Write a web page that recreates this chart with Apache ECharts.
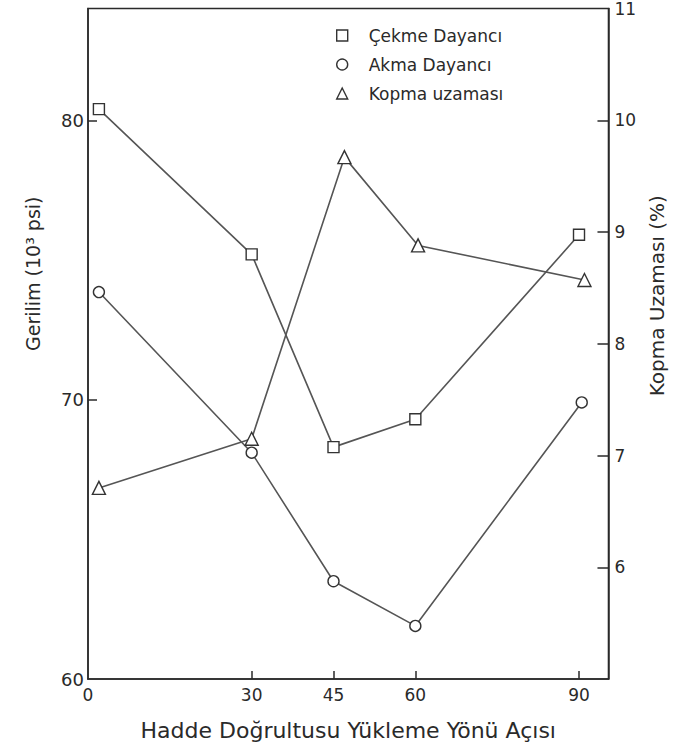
<!DOCTYPE html>
<html>
<head>
<meta charset="utf-8">
<script src="https://cdn.jsdelivr.net/npm/echarts@6/dist/echarts.min.js"></script>
<style>
  html, body { margin: 0; padding: 0; background: #fff; }
  #chart { width: 675px; height: 751px; }
</style>
</head>
<body>
<div id="chart"></div>
<script>
// angle (deg) values as plotted
var angleCekme = [2, 30, 45, 60, 90];
var cekme = [80.4, 75.2, 68.3, 69.3, 75.9];      // 10^3 psi
var angleAkma = [2, 30, 45, 60, 90.5];
var akma = [73.85, 68.1, 63.5, 61.9, 69.9];      // 10^3 psi
var angleKopma = [2, 30, 47, 60.5, 91];
var kopma = [6.71, 7.15, 9.67, 8.88, 8.57];      // %

var xLabels = [0, 30, 45, 60, 90];
var xTicks = [30, 45, 60, 90];
var leftLabels = [60, 70, 80];
var leftTicks = [70, 80];
var rightLabels = [6, 7, 8, 9, 10, 11];
var rightTicks = [6, 7, 8, 9, 10];

var seriesNames = ['Çekme Dayancı', 'Akma Dayancı', 'Kopma uzaması'];

var font = 'DejaVu Sans';
var ink = '#2a2a2a';
var lineCol = '#555';

function pairs(xs, ys) {
  return xs.map(function (x, i) { return [x, ys[i]]; });
}

var markStyle = { color: '#fff', borderColor: '#333', borderWidth: 1.4 };

var option = {
  animation: false,
  backgroundColor: '#fff',
  textStyle: { fontFamily: font, color: ink },
  grid: {
    left: 88, right: 53, top: 6, bottom: 72,
    show: true, borderColor: ink, borderWidth: 1.5, backgroundColor: 'transparent'
  },
  legend: {
    orient: 'vertical',
    left: 331, top: 22,
    itemWidth: 11, itemHeight: 11, itemGap: 12,
    textStyle: { fontFamily: font, fontSize: 17, color: ink, padding: [0, 0, 0, 16] },
    itemStyle: { color: '#fff', borderColor: '#333', borderWidth: 1.4 },
    data: [
      { name: seriesNames[0], icon: 'rect' },
      { name: seriesNames[1], icon: 'circle' },
      { name: seriesNames[2], icon: 'triangle' }
    ]
  },
  xAxis: {
    type: 'value',
    min: 0, max: 95.4,
    name: 'Hadde Doğrultusu Yükleme Yönü Açısı',
    nameLocation: 'middle',
    nameGap: 40,
    nameTextStyle: { fontFamily: font, fontSize: 22, color: ink },
    axisLine: { lineStyle: { color: ink, width: 1.5 } },
    axisTick: { inside: true, length: 8, customValues: xTicks, lineStyle: { color: ink, width: 1.5 } },
    axisLabel: { customValues: xLabels, margin: 7, fontSize: 17, color: ink, fontFamily: font },
    splitLine: { show: false }
  },
  yAxis: [
    {
      type: 'value',
      min: 60, max: 84,
      name: 'Gerilim (10³ psi)',
      nameLocation: 'middle',
      nameRotate: 90,
      nameGap: 46,
      nameTextStyle: { fontFamily: font, fontSize: 19, color: ink, padding: [0, 0, 0, 140] },
      axisLine: { lineStyle: { color: ink, width: 1.5 } },
      axisTick: { inside: true, length: 9, customValues: leftTicks, lineStyle: { color: ink, width: 1.5 } },
      axisLabel: { customValues: leftLabels, margin: 4, fontSize: 18, color: ink, fontFamily: font },
      splitLine: { show: false }
    },
    {
      type: 'value',
      min: 5, max: 11,
      position: 'right',
      name: 'Kopma Uzaması (%)',
      nameLocation: 'middle',
      nameRotate: 90,
      nameGap: 32,
      nameTextStyle: { fontFamily: font, fontSize: 20, color: ink, padding: [0, 0, 0, 96] },
      axisLine: { lineStyle: { color: ink, width: 1.5 } },
      axisTick: { inside: true, length: 11, customValues: rightTicks, lineStyle: { color: ink, width: 1.5 } },
      axisLabel: { customValues: rightLabels, margin: 6, fontSize: 17, color: ink, fontFamily: font },
      splitLine: { show: false }
    }
  ],
  series: [
    {
      name: seriesNames[0], type: 'line', yAxisIndex: 0,
      symbol: 'rect', symbolSize: 11,
      lineStyle: { color: lineCol, width: 1.6 },
      itemStyle: markStyle,
      data: pairs(angleCekme, cekme)
    },
    {
      name: seriesNames[1], type: 'line', yAxisIndex: 0,
      symbol: 'circle', symbolSize: 11,
      lineStyle: { color: lineCol, width: 1.6 },
      itemStyle: markStyle,
      data: pairs(angleAkma, akma)
    },
    {
      name: seriesNames[2], type: 'line', yAxisIndex: 1,
      symbol: 'triangle', symbolSize: 13,
      lineStyle: { color: lineCol, width: 1.6 },
      itemStyle: markStyle,
      data: pairs(angleKopma, kopma)
    }
  ]
};

var chart = echarts.init(document.getElementById('chart'), null, { renderer: 'svg' });
chart.setOption(option);
</script>
</body>
</html>
